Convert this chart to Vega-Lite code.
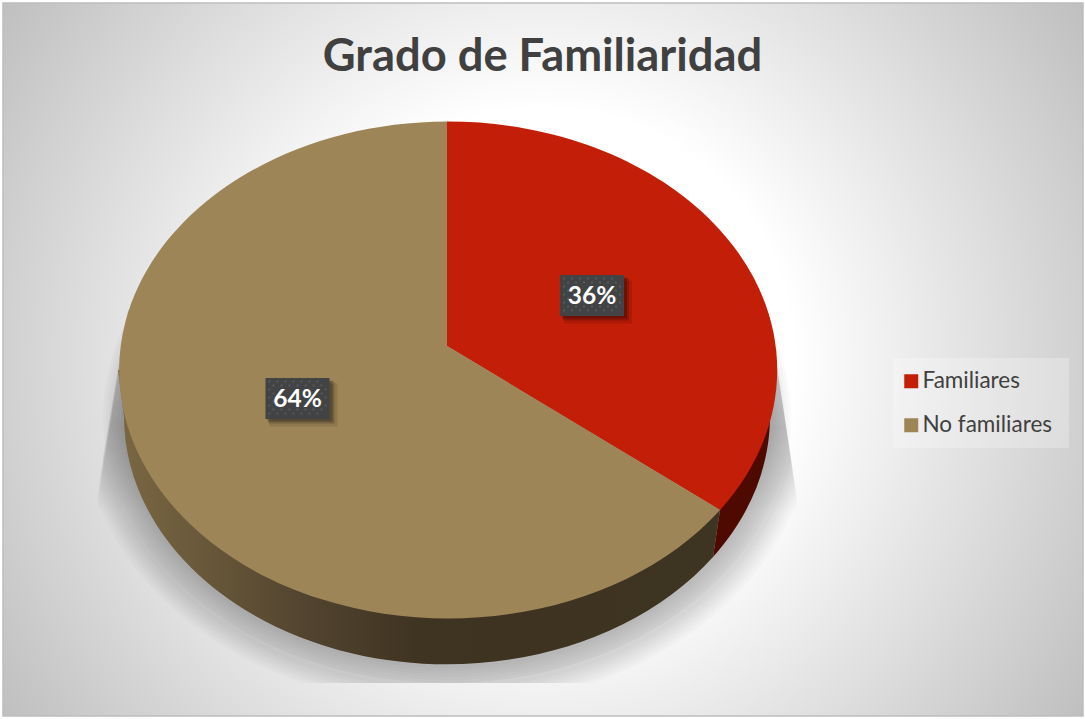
{"$schema":"https://vega.github.io/schema/vega-lite/v6.json","width":1085,"height":719,"padding":0,"autosize":{"type":"none"},"background":"#ffffff","view":{"stroke":null},
"title":{"text":"Grado de Familiaridad","font":"Lato","fontSize":45.3,"fontWeight":"bold","color":"#404040","anchor":"middle","frame":"group","offset":-116,"baseline":"alphabetic"},
"data":{"values":[{"category":"Familiares","value":36,"label":"36%"},{"category":"No familiares","value":64,"label":"64%"}]},
"layer":[
{"transform":[{"filter":"datum.category=='Familiares'"}],"mark":{"type":"rect","stroke":"#bdbdbd","strokeWidth":1.5,"fill":{"gradient":"radial","x1":0.5,"y1":0.5,"r1":0,"x2":0.5,"y2":0.5,"r2":0.6,"stops":[{"offset":0,"color":"#ffffff"},{"offset":0.385,"color":"#ffffff"},{"offset":1,"color":"#bfbfbf"}]}},"encoding":{"x":{"datum":3,"type":"quantitative","scale":{"domain":[0,1085],"range":[0,1085]},"axis":null},"x2":{"datum":1083},"y":{"datum":3,"type":"quantitative","scale":{"domain":[0,719],"range":[0,719]},"axis":null},"y2":{"datum":716}}},
{"transform":[{"filter":"datum.category=='Familiares'"}],"mark":{"type":"rect","fill":"#ffffff","opacity":0.25,"strokeWidth":0},"encoding":{"x":{"datum":893,"type":"quantitative","scale":{"domain":[0,1085],"range":[0,1085]},"axis":null},"x2":{"datum":1069},"y":{"datum":358,"type":"quantitative","scale":{"domain":[0,719],"range":[0,719]},"axis":null},"y2":{"datum":448}}},
{"encoding":{"x":{"datum":447,"type":"quantitative","scale":{"domain":[0,1085],"range":[0,1085]},"axis":null},"y":{"datum":370,"type":"quantitative","scale":{"domain":[0,719],"range":[0,719]},"axis":null},"size":{"value":4}},
"layer":[
{"transform":[{"filter":"datum.category=='Familiares'"}],"layer":[
{"mark":{"type":"point","filled":true,"opacity":1,"strokeWidth":0,"shape":"M-319,-60L-352,150L-300,200L300,200L353,150L326,-30L0,-60Z","fill":{"gradient":"linear","x1":0,"y1":0,"x2":0,"y2":1,"stops":[{"offset":0,"color":"rgba(0,0,0,0)"},{"offset":0.45,"color":"rgba(0,0,0,0.11)"},{"offset":0.78,"color":"rgba(0,0,0,0)"},{"offset":1,"color":"rgba(0,0,0,0)"}]}}},
{"mark":{"type":"point","filled":true,"fill":"#000000","opacity":0.02,"strokeWidth":0,"shape":"M-319,-60L-350,130A365,290 0 0 0 -145,313L145,313A365,290 0 0 0 350,130L326,-30Z"}},
{"mark":{"type":"point","filled":true,"fill":"#000000","opacity":0.02,"strokeWidth":0,"shape":"M-319,-60L-349,122A362,287 0 0 0 -136,313L136,313A362,287 0 0 0 349,122L326,-30Z"}},
{"mark":{"type":"point","filled":true,"fill":"#000000","opacity":0.02,"strokeWidth":0,"shape":"M-319,-60L-348,115A359,284 0 0 0 -126,313L126,313A359,284 0 0 0 348,115L326,-30Z"}},
{"mark":{"type":"point","filled":true,"fill":"#000000","opacity":0.02,"strokeWidth":0,"shape":"M-319,-60L-347,108A356,281 0 0 0 -115,313L115,313A356,281 0 0 0 347,108L326,-30Z"}},
{"mark":{"type":"point","filled":true,"fill":"#000000","opacity":0.02,"strokeWidth":0,"shape":"M-319,-60L-346,100A353,278 0 0 0 -103,313L103,313A353,278 0 0 0 346,100L326,-30Z"}},
{"mark":{"type":"point","filled":true,"fill":"#000000","opacity":0.02,"strokeWidth":0,"shape":"M-319,-60L-345,92A350,275 0 0 0 -89,313L89,313A350,275 0 0 0 345,92L326,-30Z"}},
{"mark":{"type":"point","filled":true,"fill":"#000000","opacity":0.02,"strokeWidth":0,"shape":"M-319,-60L-344,85A347,272 0 0 0 -72,313L72,313A347,272 0 0 0 344,85L326,-30Z"}},
{"mark":{"type":"point","filled":true,"fill":"#000000","opacity":0.02,"strokeWidth":0,"shape":"M-344,47A344,266 0 1 0 344,47A344,266 0 1 0 -344,47Z"}},
{"mark":{"type":"point","filled":true,"fill":"#000000","opacity":0.02,"strokeWidth":0,"shape":"M-341,47A341,266 0 1 0 341,47A341,266 0 1 0 -341,47Z"}},
{"mark":{"type":"point","filled":true,"fill":"#000000","opacity":0.02,"strokeWidth":0,"shape":"M-338,47A338,263 0 1 0 338,47A338,263 0 1 0 -338,47Z"}},
{"mark":{"type":"point","filled":true,"fill":"#000000","opacity":0.02,"strokeWidth":0,"shape":"M-335,47A335,260 0 1 0 335,47A335,260 0 1 0 -335,47Z"}},
{"mark":{"type":"point","filled":true,"fill":"#000000","opacity":0.02,"strokeWidth":0,"shape":"M-332,47A332,257 0 1 0 332,47A332,257 0 1 0 -332,47Z"}},
{"mark":{"type":"point","filled":true,"fill":"#000000","opacity":0.02,"strokeWidth":0,"shape":"M-329,47A329,254 0 1 0 329,47A329,254 0 1 0 -329,47Z"}},
{"mark":{"type":"point","filled":true,"fill":"#000000","opacity":0.02,"strokeWidth":0,"shape":"M-326,47A326,251 0 1 0 326,47A326,251 0 1 0 -326,47Z"}}
]},
{"transform":[{"filter":"datum.category=='No familiares'"}],"mark":{"type":"point","filled":true,"opacity":1,"strokeWidth":0,"shape":"M266,187A323,248 0 0 1 -323,47L-329,0L0,0L273,140Z","fill":{"gradient":"linear","x1":0,"y1":0,"x2":1,"y2":0,"stops":[{"offset":0,"color":"#7a6743"},{"offset":0.17,"color":"#655538"},{"offset":0.3,"color":"#534530"},{"offset":0.5,"color":"#3f3321"},{"offset":1,"color":"#3d3421"}]}}},
{"transform":[{"filter":"datum.category=='Familiares'"}],"mark":{"type":"point","filled":true,"opacity":1,"strokeWidth":0,"fill":"#4f0a00","shape":"M273,140L266,187A323,248 0 0 0 323,47L329,0Z"}},
{"mark":{"type":"square","opacity":1,"strokeWidth":0},"encoding":{"size":{"value":1},"color":{"field":"category","type":"nominal","scale":{"domain":["Familiares","No familiares"],"range":["#c21e08","#9e8558"]},"legend":{"orient":"none","legendX":889,"legendY":359,"title":null,"padding":11,"symbolType":"square","symbolSize":196,"symbolStrokeWidth":0,"labelFont":"Lato","labelFontSize":22.5,"labelColor":"#404040","labelOffset":0,"rowPadding":21,"labelExpr":"datum.value=='No familiares'?'\u2005No familiares':datum.label"}}}},
{"transform":[{"filter":"datum.category=='Familiares'"}],"mark":{"type":"point","filled":true,"opacity":1,"strokeWidth":0,"shape":"M0,-24L0,-248.5A329,248.5 0 0 1 273,140Z"},"encoding":{"color":{"field":"category","type":"nominal","legend":null}}},
{"transform":[{"filter":"datum.category=='No familiares'"}],"mark":{"type":"point","filled":true,"opacity":1,"strokeWidth":0,"shape":"M0,-24L0,-248.5A329,248.5 0 1 0 273,140Z"},"encoding":{"color":{"field":"category","type":"nominal","legend":null}}}
]},
{"transform":[{"filter":"datum.category=='Familiares'"}],"encoding":{"x":{"datum":592,"type":"quantitative","scale":{"domain":[0,1085],"range":[0,1085]},"axis":null},"y":{"datum":295.5,"type":"quantitative","scale":{"domain":[0,719],"range":[0,719]},"axis":null},"size":{"value":4}},
"layer":[
{"mark":{"type":"point","filled":true,"fill":"#000000","opacity":0.1,"strokeWidth":0,"shape":"M-28,-15H40V28H-28Z"}},
{"mark":{"type":"point","filled":true,"fill":"#000000","opacity":0.18,"strokeWidth":0,"shape":"M-29,-17H37V25H-29Z"}},
{"mark":{"type":"point","filled":true,"fill":"#000000","opacity":0.22,"strokeWidth":0,"shape":"M-30,-18H35V23H-30Z"}},
{"mark":{"type":"point","filled":true,"fill":"#424345","opacity":1,"strokeWidth":0,"shape":"M-32,-20.5H32V20.5H-32Z"}},
{"mark":{"type":"point","filled":true,"fill":"#57595b","opacity":1,"strokeWidth":0,"shape":"M-29,-18h2v2h-2v-2zm8,0h2v2h-2v-2zm8,0h2v2h-2v-2zm8,0h2v2h-2v-2zm8,0h2v2h-2v-2zm8,0h2v2h-2v-2zm8,0h2v2h-2v-2zM-25,-14h2v2h-2v-2zm8,0h2v2h-2v-2zm8,0h2v2h-2v-2zm8,0h2v2h-2v-2zm8,0h2v2h-2v-2zm8,0h2v2h-2v-2zm8,0h2v2h-2v-2zM-29,-10h2v2h-2v-2zm56,0h2v2h-2v-2zM-25,-6h2v2h-2v-2zm48,0h2v2h-2v-2zM-29,-2h2v2h-2v-2zm56,0h2v2h-2v-2zM-25,2h2v2h-2v-2zm48,0h2v2h-2v-2zM-29,6h2v2h-2v-2zm56,0h2v2h-2v-2zM-25,10h2v2h-2v-2zm8,0h2v2h-2v-2zm8,0h2v2h-2v-2zm8,0h2v2h-2v-2zm8,0h2v2h-2v-2zm8,0h2v2h-2v-2zm8,0h2v2h-2v-2zM-29,14h2v2h-2v-2zm8,0h2v2h-2v-2zm8,0h2v2h-2v-2zm8,0h2v2h-2v-2zm8,0h2v2h-2v-2zm8,0h2v2h-2v-2zm8,0h2v2h-2v-2z"}},
{"mark":{"type":"text","font":"Lato","fontSize":24.5,"fontWeight":"bold","color":"#ffffff","align":"center","baseline":"middle","dy":1.5},"encoding":{"text":{"field":"label","type":"nominal"},"size":{"value":24.5}}}
]},
{"transform":[{"filter":"datum.category=='No familiares'"}],"encoding":{"x":{"datum":297.5,"type":"quantitative","scale":{"domain":[0,1085],"range":[0,1085]},"axis":null},"y":{"datum":398.5,"type":"quantitative","scale":{"domain":[0,719],"range":[0,719]},"axis":null},"size":{"value":4}},
"layer":[
{"mark":{"type":"point","filled":true,"fill":"#000000","opacity":0.1,"strokeWidth":0,"shape":"M-28,-15H40V28H-28Z"}},
{"mark":{"type":"point","filled":true,"fill":"#000000","opacity":0.18,"strokeWidth":0,"shape":"M-29,-17H37V25H-29Z"}},
{"mark":{"type":"point","filled":true,"fill":"#000000","opacity":0.22,"strokeWidth":0,"shape":"M-30,-18H35V23H-30Z"}},
{"mark":{"type":"point","filled":true,"fill":"#424345","opacity":1,"strokeWidth":0,"shape":"M-32,-20.5H32V20.5H-32Z"}},
{"mark":{"type":"point","filled":true,"fill":"#57595b","opacity":1,"strokeWidth":0,"shape":"M-29,-18h2v2h-2v-2zm8,0h2v2h-2v-2zm8,0h2v2h-2v-2zm8,0h2v2h-2v-2zm8,0h2v2h-2v-2zm8,0h2v2h-2v-2zm8,0h2v2h-2v-2zM-25,-14h2v2h-2v-2zm8,0h2v2h-2v-2zm8,0h2v2h-2v-2zm8,0h2v2h-2v-2zm8,0h2v2h-2v-2zm8,0h2v2h-2v-2zm8,0h2v2h-2v-2zM-29,-10h2v2h-2v-2zm56,0h2v2h-2v-2zM-25,-6h2v2h-2v-2zm48,0h2v2h-2v-2zM-29,-2h2v2h-2v-2zm56,0h2v2h-2v-2zM-25,2h2v2h-2v-2zm48,0h2v2h-2v-2zM-29,6h2v2h-2v-2zm56,0h2v2h-2v-2zM-25,10h2v2h-2v-2zm8,0h2v2h-2v-2zm8,0h2v2h-2v-2zm8,0h2v2h-2v-2zm8,0h2v2h-2v-2zm8,0h2v2h-2v-2zm8,0h2v2h-2v-2zM-29,14h2v2h-2v-2zm8,0h2v2h-2v-2zm8,0h2v2h-2v-2zm8,0h2v2h-2v-2zm8,0h2v2h-2v-2zm8,0h2v2h-2v-2zm8,0h2v2h-2v-2z"}},
{"mark":{"type":"text","font":"Lato","fontSize":24.5,"fontWeight":"bold","color":"#ffffff","align":"center","baseline":"middle","dy":1.5},"encoding":{"text":{"field":"label","type":"nominal"},"size":{"value":24.5}}}
]}
]}
